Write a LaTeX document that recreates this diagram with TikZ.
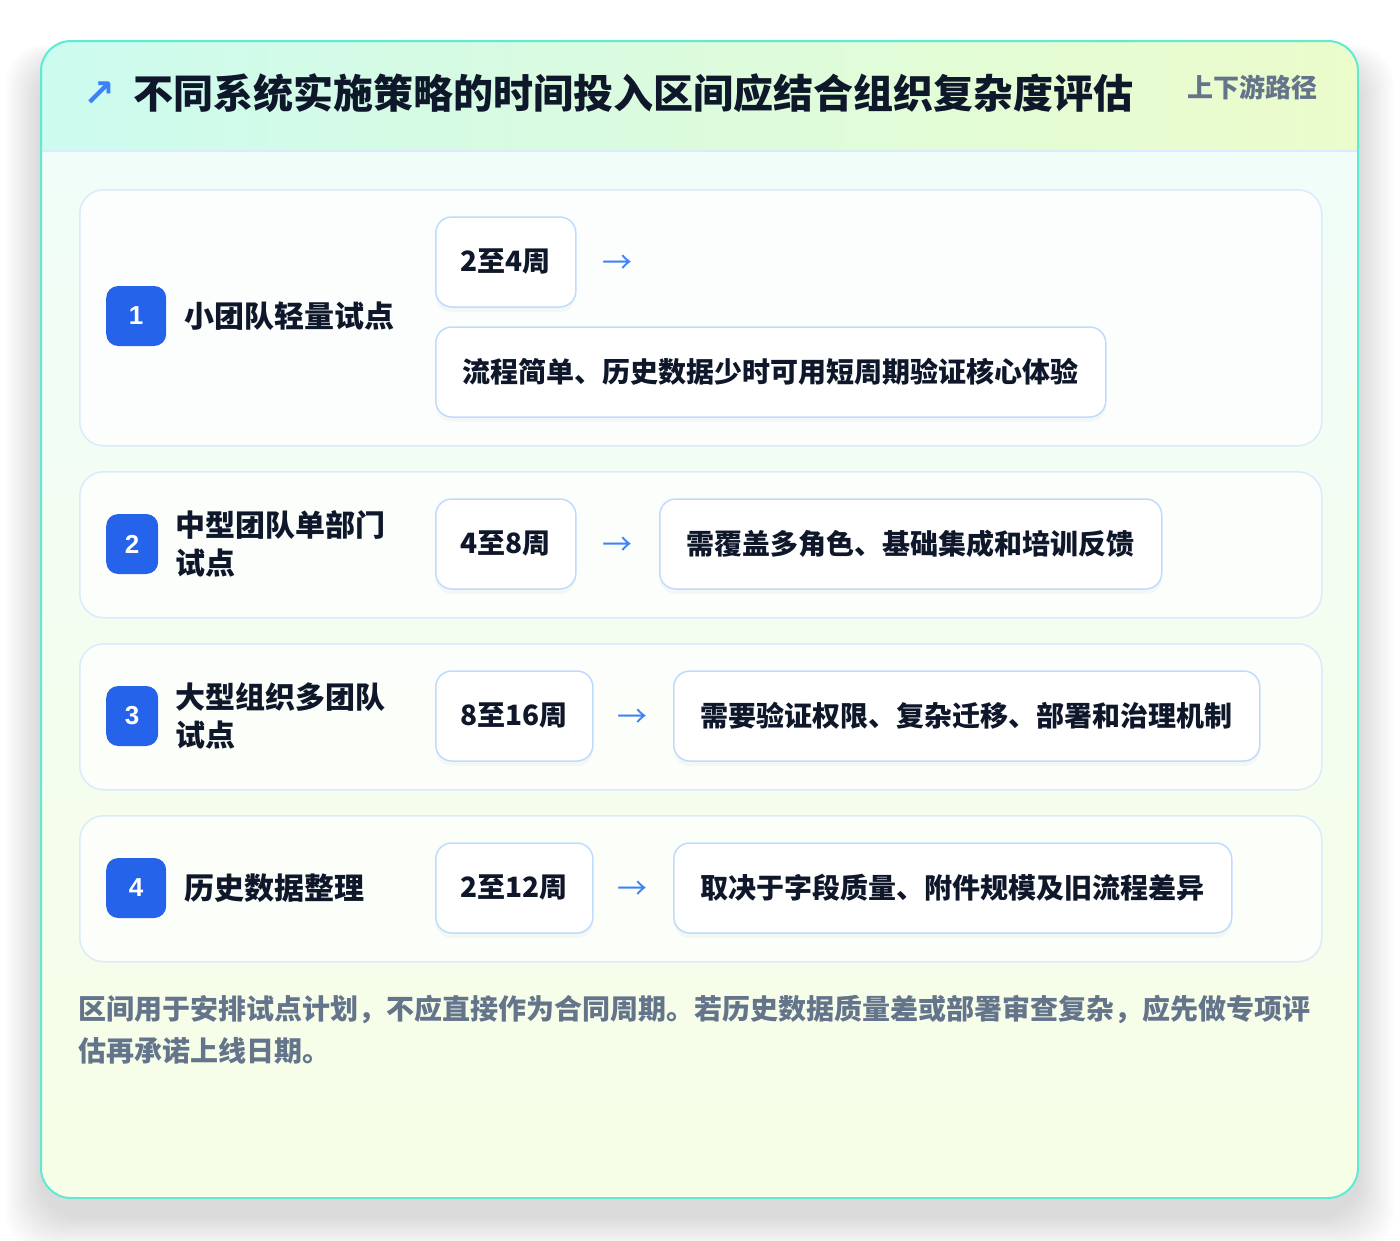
\documentclass[tikz,border=0pt]{standalone}
\usepackage{fontspec}
\setmainfont{Noto Sans CJK SC}
\newfontfamily\arrowfont{DejaVu Sans}
\newfontfamily\numfont{Liberation Sans}
\usepackage{tikz}
\usetikzlibrary{calc, positioning, shadows}
\definecolor{ink}{HTML}{0F172A}
\definecolor{muted}{HTML}{64748B}
\definecolor{badgeblue}{HTML}{2563EB}
\definecolor{arrowblue}{HTML}{3B82F6}
\definecolor{tealline}{HTML}{5EEAD4}
\definecolor{hdrL}{HTML}{CCFBEF}
\definecolor{hdrR}{HTML}{ECFCCB}
\definecolor{bodyT}{HTML}{F0FDFA}
\definecolor{bodyB}{HTML}{F7FEE7}
\definecolor{cardline}{HTML}{DBEAFE}
\definecolor{boxline}{HTML}{BFDBFE}
\newcommand{\fsz}[2]{\fontsize{#1}{#2}\selectfont}
\tikzstyle{rowcard}=[draw=cardline, line width=1.5pt, fill=white, fill opacity=0.75, rounded corners=24pt, minimum width=1242pt, anchor=north west, inner sep=0pt]
\tikzstyle{badge}=[fill=badgeblue, rounded corners=12pt, text=white, font=\numfont\bfseries\fsz{26}{28}, minimum width=60pt, minimum height=60pt, inner sep=0pt, anchor=west]
\tikzstyle{lbl}=[anchor=west, inner sep=0pt, align=left, text=ink, font=\bfseries\fsz{30}{38}]
\tikzstyle{pill}=[draw=boxline, line width=1.5pt, fill=white, rounded corners=16pt, minimum height=90pt, inner xsep=27pt, inner ysep=0pt, anchor=west, text=ink, font=\bfseries\fsz{28}{34}, drop shadow={shadow xshift=0pt, shadow yshift=-5pt, opacity=0.05}]
\tikzstyle{timepill}=[pill, inner xsep=25pt]
\tikzstyle{arr}=[inner sep=0pt, text=arrowblue, font=\fsz{30}{30}]

\begin{document}
\begin{tikzpicture}[x=1pt, y=-1pt]
\useasboundingbox (0,0) rectangle (1400,1240);
\fill[white] (0,0) rectangle (1400,1240);
\foreach \i in {2,4,...,36} \fill[black, opacity=0.007, rounded corners=40pt] (41-\i,41-0.5*\i+22) rectangle (1358+\i,1198+\i+18);
\begin{scope}
\clip[rounded corners=30pt] (41,41) rectangle (1358,1198);
\shade[top color=bodyT, bottom color=bodyB] (41,41) rectangle (1358,1198);
\shade[left color=hdrL, right color=hdrR] (41,41) rectangle (1358,151);
\draw[cardline, line width=1.5pt] (41,151) -- (1358,151);
\end{scope}
\draw[tealline, line width=2pt, rounded corners=30pt] (41,41) rectangle (1358,1198);

\node[text=arrowblue, font=\arrowfont\bfseries\fsz{38}{38}, inner sep=0pt] (tarrow) at (99,94) {↗};
\node[anchor=west, inner sep=0pt, text=ink, font=\bfseries\fsz{40}{48}] (title) at (133,93) {不同系统实施策略的时间投入区间应结合组织复杂度评估};
\node[anchor=east, inner sep=0pt, text=muted, font=\bfseries\fsz{26}{30}] (tag) at (1318,87) {上下游路径};

\node[rowcard, minimum height=256pt] (card1) at (79,189) {};
\node[rowcard, minimum height=146pt] (card2) at (79,471) {};
\node[rowcard, minimum height=146pt] (card3) at (79,643) {};
\node[rowcard, minimum height=146pt] (card4) at (79,815) {};

\node[badge] (b1) at (106,316) {1}; \node[lbl, right=18pt of b1] (l1) {小团队轻量试点};
\node[badge, minimum width=52pt] (b2) at (106,544) {2}; \node[lbl, right=17pt of b2] (l2) {中型团队单部门\\试点};
\node[badge, minimum width=52pt] (b3) at (106,716) {3}; \node[lbl, right=17pt of b3] (l3) {大型组织多团队\\试点};
\node[badge] (b4) at (106,888) {4}; \node[lbl, right=18pt of b4] (l4) {历史数据整理};

\node[timepill] (t1) at (435,262) {2至4周}; \node[arr] (a1) at (617,264) {→};
\node[pill] (d1) at (435,372) {流程简单、历史数据少时可用短周期验证核心体验};
\node[timepill] (t2) at (435,544) {4至8周}; \node[arr] (a2) at (617,546) {→};
\node[pill] (d2) at (659,544) {需覆盖多角色、基础集成和培训反馈};
\node[timepill] (t3) at (435,716) {8至16周}; \node[arr] (a3) at (632,718) {→};
\node[pill] (d3) at (673,716) {需要验证权限、复杂迁移、部署和治理机制};
\node[timepill] (t4) at (435,888) {2至12周}; \node[arr] (a4) at (632,890) {→};
\node[pill] (d4) at (673,888) {取决于字段质量、附件规模及旧流程差异};

\node[anchor=north west, inner sep=0pt, align=left, text=muted, font=\bfseries\fsz{28}{42}] (note) at (78,995) {区间用于安排试点计划，不应直接作为合同周期。若历史数据质量差或部署审查复杂，应先做专项评\\估再承诺上线日期。};
\end{tikzpicture}
\end{document}
